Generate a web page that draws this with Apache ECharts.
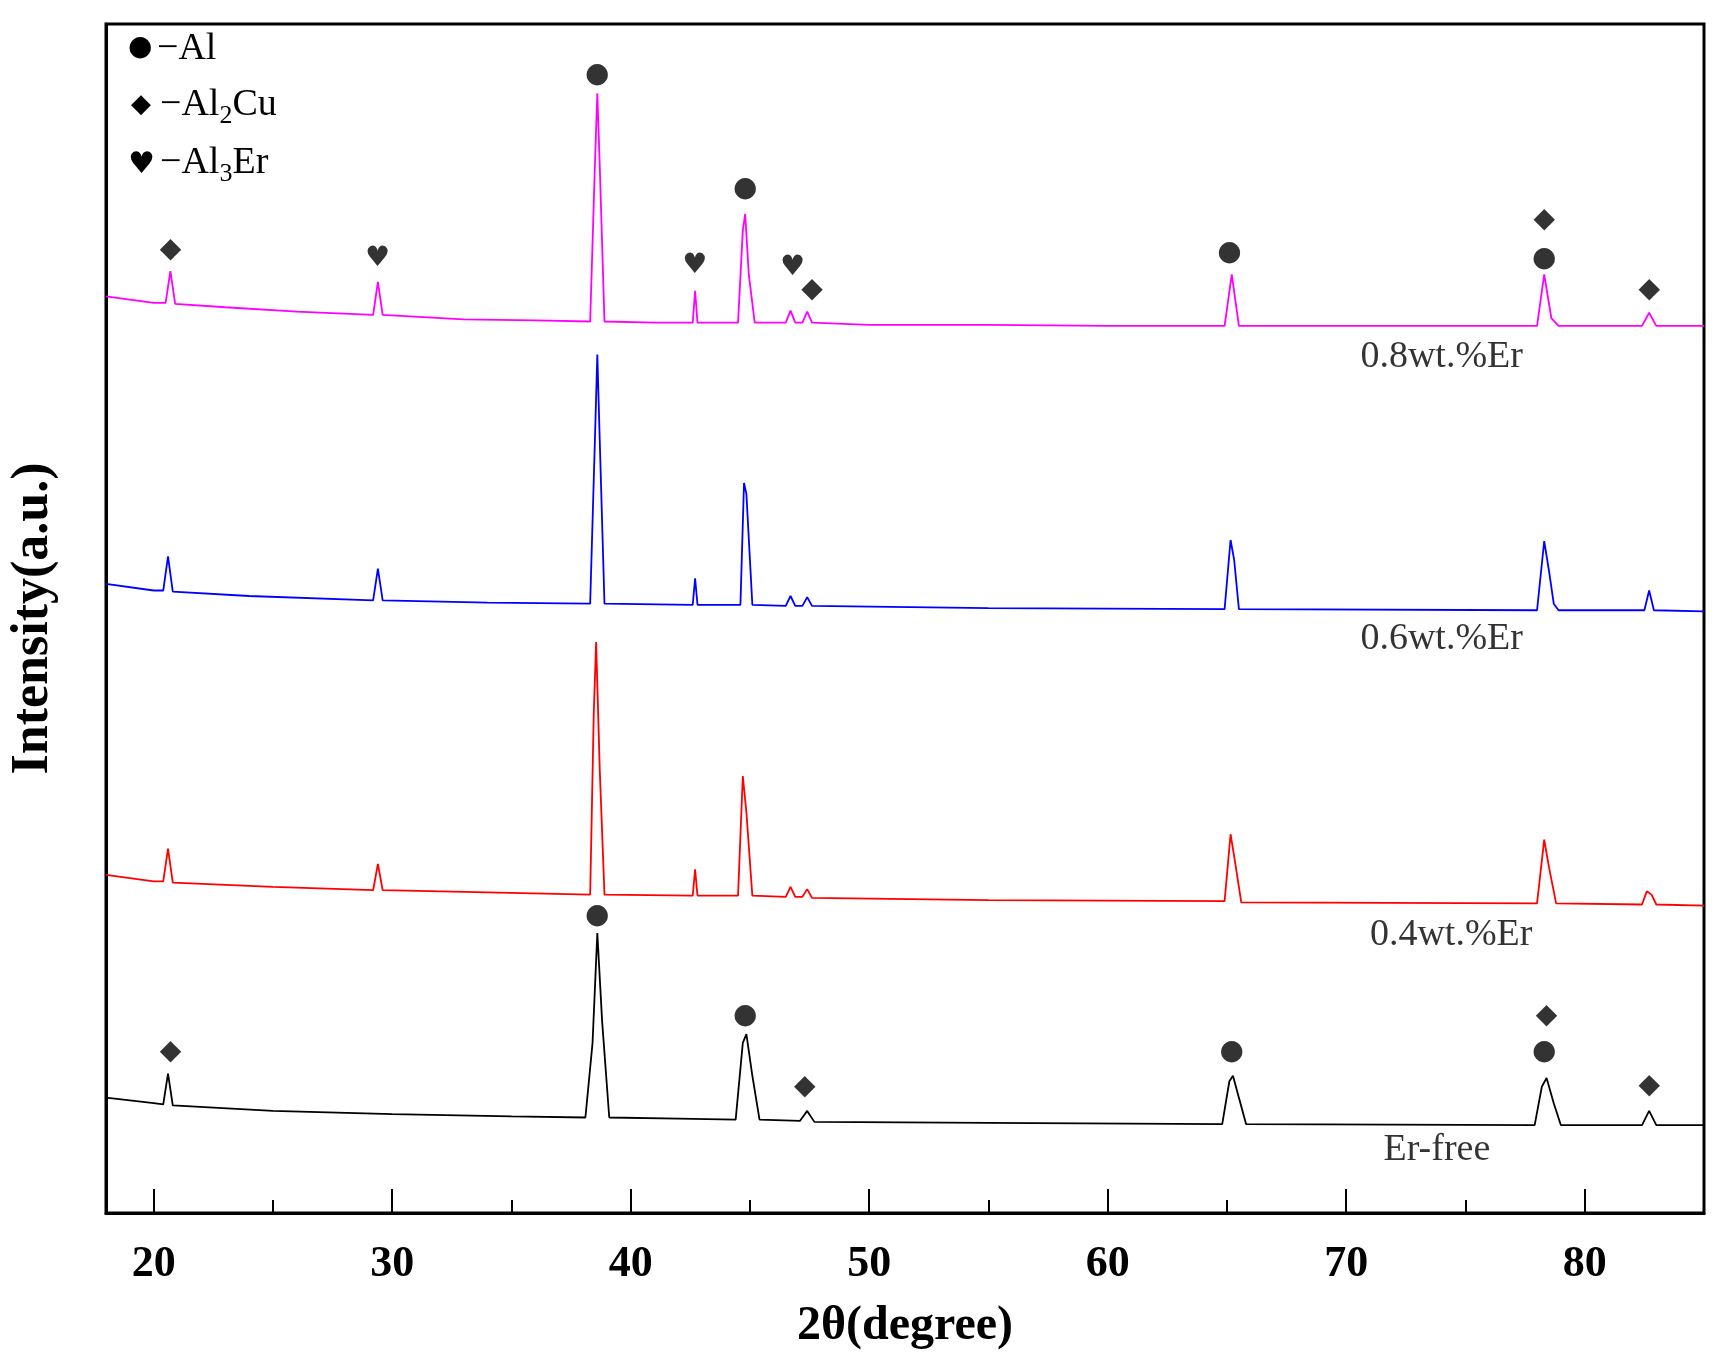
<!DOCTYPE html>
<html><head><meta charset="utf-8">
<script src="https://cdn.jsdelivr.net/npm/echarts@6/dist/echarts.min.js"></script>
<style>html,body{margin:0;padding:0;background:#fff}#c{width:1722px;height:1358px}</style>
</head><body><div id="c"></div>
<script>
// y values are vertical positions on an inverted intensity scale (offset traces)
const er08 = [[18,270],[20,276],[20.5,276],[20.7,247],[20.9,277],[23,280],[26,284],[29.2,287],[29.4,257],[29.6,287],[33,291],[36,292],[38.3,293],[38.5,150],[38.6,85],[38.7,150],[38.9,293],[41,294],[42.6,294],[42.7,265],[42.8,294],[44.5,294],[44.7,210],[44.8,195],[44.95,250],[45.2,294],[46.5,294],[46.7,283],[46.9,294],[47.2,294],[47.4,284],[47.6,294],[50,296],[55,296],[60,297],[64.9,297],[65.2,250],[65.5,297],[70,297],[75,297],[78.0,297],[78.3,250],[78.6,290],[78.9,297],[82.4,297],[82.7,285],[83,297],[85,297]];
const er06 = [[18,532],[20,538],[20.4,538],[20.6,507],[20.8,539],[24,543],[29.2,547],[29.4,518],[29.6,547],[34,549],[38.3,550],[38.5,400],[38.6,323],[38.7,400],[38.9,550],[42.6,551],[42.7,527],[42.8,551],[44.6,551],[44.75,440],[44.85,450],[45.1,551],[46.5,552],[46.7,543],[46.9,552],[47.2,552],[47.4,544],[47.6,552],[55,554],[64.9,555],[65.15,492],[65.3,510],[65.5,555],[78.0,556],[78.3,493],[78.5,520],[78.7,550],[78.9,556],[82.5,556],[82.7,538],[82.9,556],[85,557]];
const er04 = [[18,797],[20,803],[20.4,803],[20.6,773],[20.8,804],[25,808],[29.2,811],[29.4,787],[29.6,811],[34,813],[38.3,815],[38.45,650],[38.55,585],[38.7,700],[38.9,815],[42.6,816],[42.7,792],[42.8,816],[44.5,816],[44.7,707],[44.85,740],[45.1,816],[46.5,817],[46.7,808],[46.9,817],[47.2,817],[47.4,810],[47.6,818],[55,820],[64.9,821],[65.15,760],[65.3,780],[65.6,822],[78.0,823],[78.3,765],[78.5,790],[78.8,823],[82.4,824],[82.6,812],[82.8,815],[83,824],[85,825]];
const erFree = [[18,1000],[20,1005],[20.4,1006],[20.6,978],[20.8,1007],[25,1012],[30,1015],[35,1017],[38.1,1018],[38.4,950],[38.6,850],[38.8,930],[39.1,1018],[42,1019],[44.4,1020],[44.7,950],[44.85,942],[45.1,980],[45.4,1020],[47.1,1021],[47.4,1012],[47.7,1022],[55,1023],[64.8,1024],[65.1,985],[65.25,980],[65.5,1000],[65.8,1024],[77.9,1025],[78.2,990],[78.4,982],[78.7,1005],[79,1025],[82.4,1025],[82.7,1012],[83,1025],[85,1025]];
const phaseMarks = [[20.7,228,'◆'],[29.4,236,'♥'],[38.6,68,'●'],[42.7,242,'♥'],[44.8,172,'●'],[46.8,244,'♥'],[47.6,264,'◆'],[65.1,230,'●'],[78.3,200,'◆'],[78.3,236,'●'],[82.7,264,'◆'],
  [20.7,958,'◆'],[38.6,834,'●'],[44.8,925,'●'],[47.3,990,'◆'],[65.2,958,'●'],[78.4,925,'◆'],[78.3,958,'●'],[82.7,989,'◆']];
const traceLabels = [[74.0,325,'0.8wt.%Er'],[74.0,582,'0.6wt.%Er'],[74.4,852,'0.4wt.%Er'],[73.8,1048,'Er-free']];
const majorTicks = [20,30,40,50,60,70,80];
const minorTicks = [25,35,45,55,65,75];

const serif = '"Liberation Serif","DejaVu Serif",serif';
const line = (d,c)=>({type:'line',data:d,showSymbol:false,symbol:'none',lineStyle:{color:c,width:1.8},itemStyle:{color:c},animation:false});
const chart = echarts.init(document.getElementById('c'));
chart.setOption({
  animation:false,
  grid:{left:86,right:18,top:24,bottom:145,show:true,borderColor:'#000',borderWidth:3},
  xAxis:[{type:'value',min:18,max:85,
    name:'2θ(degree)',nameLocation:'middle',nameGap:90,
    nameTextStyle:{fontFamily:serif,fontWeight:'bold',fontSize:48,color:'#000'},
    axisLine:{lineStyle:{color:'#000',width:3}},
    axisTick:{inside:true,length:24,customValues:majorTicks,lineStyle:{color:'#000',width:2}},
    axisLabel:{customValues:majorTicks,fontFamily:serif,fontWeight:'bold',fontSize:44,color:'#000',margin:30},
    splitLine:{show:false}},
   {type:'value',min:18,max:85,position:'bottom',
    axisLine:{show:false},axisLabel:{show:false},splitLine:{show:false},
    axisTick:{inside:true,length:13,customValues:minorTicks,lineStyle:{color:'#000',width:2}}}],
  yAxis:{type:'value',min:22,max:1105,inverse:true,
    name:'Intensity(a.u.)',nameLocation:'middle',nameGap:46,nameRotate:90,
    nameTextStyle:{fontFamily:serif,fontWeight:'bold',fontSize:52,color:'#000'},
    axisLine:{show:true,lineStyle:{color:'#000',width:3}},axisTick:{show:false},axisLabel:{show:false},splitLine:{show:false}},
  series:[line(er08,'#ff00ff'),line(er06,'#0000ff'),line(er04,'#ff0000'),line(erFree,'#000000'),
    {type:'scatter',symbolSize:0,data:phaseMarks.map(p=>({value:[p[0],p[1]],name:p[2]})),
     label:{show:true,position:'inside',formatter:p=>p.name,color:'#000',fontSize:28,fontFamily:'"DejaVu Sans",sans-serif'}},
    {type:'scatter',symbolSize:0,data:traceLabels.map(p=>({value:[p[0],p[1]],name:p[2]})),
     label:{show:true,position:'inside',formatter:p=>p.name,color:'#000',fontSize:38,fontFamily:serif}}],
  graphic:[
    {type:'text',left:128,top:34,style:{text:'●',font:'28px "DejaVu Sans"',fill:'#000'}},
    {type:'text',left:131,top:92,style:{text:'◆',font:'26px "DejaVu Sans"',fill:'#000'}},
    {type:'text',left:128,top:150,style:{text:'♥',font:'30px "DejaVu Sans"',fill:'#000'}},
    {type:'text',left:157,top:30,style:{text:'−Al',font:'38px '+serif,fill:'#000'}},
    {type:'text',left:160,top:86,style:{text:'−Al{s|2}Cu',font:'38px '+serif,fill:'#000',rich:{s:{fontSize:26,fontFamily:serif,padding:[22,0,0,0]}}}},
    {type:'text',left:160,top:144,style:{text:'−Al{s|3}Er',font:'38px '+serif,fill:'#000',rich:{s:{fontSize:26,fontFamily:serif,padding:[22,0,0,0]}}}}
  ]
});
</script></body></html>
